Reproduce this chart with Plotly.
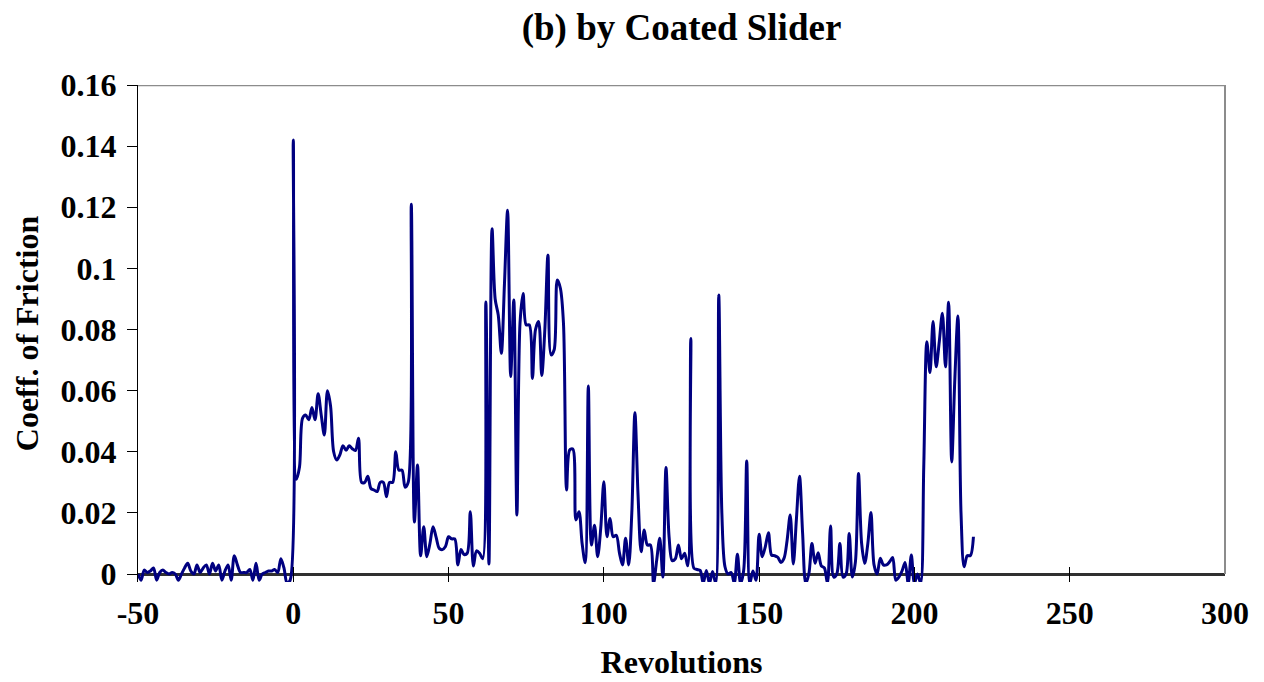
import plotly.graph_objects as go

# Revolutions (sampling grid) and coefficient of friction
revs = list(range(-50, 220))

cof_pre = [
    0.0, -0.002, 0.0013, 0.0005, 0.001, 0.002, -0.002, 0.0005, 0.0013, 0.0005,
    0.0, 0.0005, 0.0, -0.002, 0.0, 0.002, 0.0035, 0.001, 0.0, 0.003,
    0.0005, 0.002, 0.003, 0.0, 0.0035, 0.001, 0.003, -0.002, 0.001, 0.003,
    -0.002, 0.006, 0.003, 0.0005, 0.0005, 0.0005, 0.0015, -0.002, 0.0035, -0.002,
    0.0, 0.0005, 0.001, 0.001, 0.0015, 0.0005, 0.005, 0.002, -0.003, -0.002,
]
cof_0_49 = [
    0.142, 0.031, 0.035, 0.051, 0.052, 0.0505, 0.0545, 0.0505, 0.059, 0.052,
    0.0455, 0.060, 0.055, 0.040, 0.0373, 0.039, 0.042, 0.0405, 0.042, 0.041,
    0.0404, 0.0444, 0.030, 0.030, 0.032, 0.028, 0.0275, 0.027, 0.030, 0.030,
    0.0253, 0.030, 0.030, 0.040, 0.034, 0.034, 0.0284, 0.030, 0.121, 0.017,
    0.0357, 0.006, 0.0155, 0.0057, 0.010, 0.0155, 0.012, 0.0084, 0.008, 0.009,
]
cof_50_99 = [
    0.0122, 0.0115, 0.0115, 0.003, 0.008, 0.0064, 0.0068, 0.0204, 0.0026, 0.0076,
    0.0068, 0.005, 0.089, 0.0033, 0.113, 0.090, 0.0847, 0.0722, 0.095, 0.119,
    0.0646, 0.0897, 0.0193, 0.082, 0.0918, 0.0815, 0.0815, 0.064, 0.080, 0.0826,
    0.065, 0.080, 0.1044, 0.0717, 0.0734, 0.0962, 0.0935, 0.082, 0.0275, 0.0406,
    0.0409, 0.0177, 0.0204, 0.010, 0.0037, 0.0615, 0.0095, 0.016, 0.0057, 0.015,
]
cof_100_149 = [
    0.0302, 0.0122, 0.0182, 0.0122, 0.0127, 0.007, 0.003, 0.0117, 0.003, 0.020,
    0.0528, 0.026, 0.0073, 0.0144, 0.0095, 0.0095, -0.003, 0.0044, 0.0117, -0.001,
    0.0349, 0.0122, 0.0044, 0.005, 0.0095, 0.005, 0.0068, 0.0027, 0.0771, 0.0019,
    0.0015, 0.0012, -0.003, 0.0012, -0.003, 0.0008, -0.003, 0.0913, 0.0199, 0.0024,
    0.0, 0.0005, -0.003, 0.0065, -0.003, 0.001, 0.037, -0.003, 0.001, -0.002,
]
cof_150_199 = [
    0.013, 0.0057, 0.009, 0.0135, 0.0062, 0.006, 0.0055, 0.0038, 0.0051, 0.011,
    0.0193, 0.0033, 0.018, 0.032, 0.0133, -0.003, 0.0, 0.010, 0.0035, 0.007,
    0.0027, 0.002, -0.003, 0.0157, -0.001, 0.0, 0.010, -0.001, 0.0, 0.0133,
    -0.001, 0.004, 0.0329, 0.010, 0.0035, 0.010, 0.0201, 0.003, 0.0, 0.0052,
    0.003, 0.003, 0.004, 0.0054, -0.002, -0.001, 0.001, 0.0038, -0.003, 0.0062,
]
cof_200_219 = [
    -0.003, 0.0, -0.003, 0.035, 0.076, 0.0659, 0.0826, 0.0678, 0.076, 0.0853,
    0.0678, 0.0889, 0.0367, 0.0635, 0.0844, 0.020, 0.0024, 0.006, 0.006, 0.0122,
]
cof = cof_pre + cof_0_49 + cof_50_99 + cof_100_149 + cof_150_199 + cof_200_219

x_ticks = [-50, 0, 50, 100, 150, 200, 250, 300]
x_tick_text = ["-50", "0", "50", "100", "150", "200", "250", "300"]
y_ticks = [0, 0.02, 0.04, 0.06, 0.08, 0.1, 0.12, 0.14, 0.16]
y_tick_text = ["0", "0.02", "0.04", "0.06", "0.08", "0.1", "0.12", "0.14", "0.16"]

FONT = "Liberation Serif, Times New Roman, serif"
NAVY = "#000080"

fig = go.Figure()
fig.add_trace(go.Scatter(
    x=revs, y=cof, mode="lines",
    line=dict(color=NAVY, width=3, shape="spline", smoothing=0.9),
    hoverinfo="skip", showlegend=False,
))

fig.update_layout(
    width=1264, height=682,
    margin=dict(l=138, r=39, t=85, b=100, autoexpand=False),
    paper_bgcolor="white", plot_bgcolor="white",
    font=dict(family=FONT, color="black"),
    title=dict(text="(b) by Coated Slider", x=0.5, xref="paper",
               y=1 - 27 / 682, yref="container", yanchor="middle", xanchor="center",
               font=dict(family=FONT, size=37, weight="bold", color="black")),
    xaxis=dict(
        range=[-50, 300], tickvals=x_ticks, ticktext=x_tick_text,
        ticks="inside", ticklen=15, tickcolor="black", tickwidth=1,
        showline=False, showgrid=False, zeroline=False, automargin=False,
        tickfont=dict(family=FONT, size=32, weight="bold", color="black"),
        ticklabelstandoff=9,
        title=dict(text="Revolutions", standoff=20,
                   font=dict(family=FONT, size=32, weight="bold", color="black")),
    ),
    yaxis=dict(
        range=[-0.0026, 0.16], tickvals=y_ticks, ticktext=y_tick_text,
        ticks="outside", ticklen=10, tickcolor="black", tickwidth=1,
        showline=True, linecolor="black", linewidth=1, automargin=False,
        showgrid=False, zeroline=True, zerolinecolor="#303030", zerolinewidth=3,
        tickfont=dict(family=FONT, size=32, weight="bold", color="black"),
        ticklabelstandoff=4,
        title=dict(text="Coeff. of Friction", standoff=12,
                   font=dict(family=FONT, size=32, weight="bold", color="black")),
    ),
    yaxis2=dict(
        overlaying="y", matches="y", anchor="x", side="left",
        range=[-0.0026, 0.16], tickvals=y_ticks, automargin=False,
        ticks="inside", ticklen=10, tickcolor="black", tickwidth=1,
        showticklabels=False, showline=False, showgrid=False, zeroline=False,
    ),
    shapes=[
        dict(type="line", xref="paper", yref="y", x0=0, x1=1, y0=0.16, y1=0.16,
             line=dict(color="#8c8c8c", width=2.5), layer="above"),
        dict(type="line", xref="paper", yref="y", x0=1, x1=1, y0=0, y1=0.16,
             line=dict(color="#8c8c8c", width=2), layer="above"),
    ],
)

fig.write_html("out.html")
